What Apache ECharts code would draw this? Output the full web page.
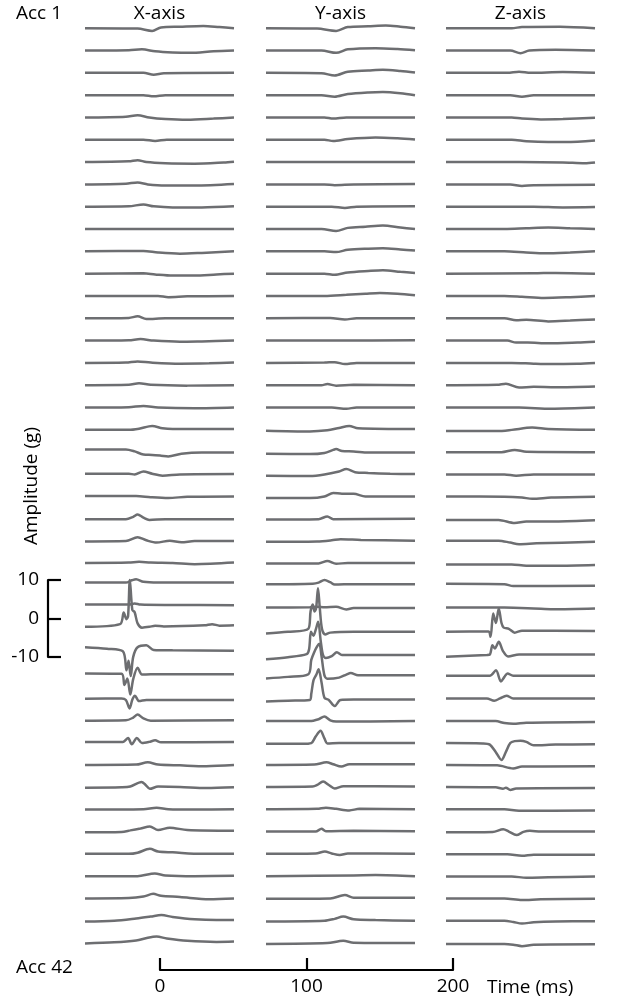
<!DOCTYPE html>
<html><head><meta charset="utf-8">
<script src="https://cdn.jsdelivr.net/npm/echarts@6/dist/echarts.min.js"></script>
<style>html,body{margin:0;padding:0;background:#fff}#c{width:636px;height:998px}</style>
</head><body><div id="c"></div><script>
const COLUMN_TITLES = ['X-axis', 'Y-axis', 'Z-axis'];
const ROW_LABELS = ['Acc 1', 'Acc 42'];
const AMPLITUDE_TICKS = [-10, 0, 10];
const TIME_TICKS = [0, 100, 200];
const AMPLITUDE_LABEL = 'Amplitude (g)';
const TIME_LABEL = 'Time (ms)';

// each trace: [time (ms), amplitude (g)] pairs, rows Acc 1 .. Acc 42
const X_TRACES = [
 [[0,0],[36,-0.1],[46,-0.7],[52,0.2],[65,0.4],[81,0.6],[92,0.3],[102,0]],
 [[0,0],[30,0.1],[39,0.3],[48,-0.2],[60,-0.5],[72,-0.6],[88,-0.2],[102,0]],
 [[0,0],[40,0],[47,-0.5],[54,-0.1],[102,0]],
 [[0,0],[40,0],[47,-0.3],[55,0],[102,0]],
 [[0,0],[28,0.2],[36,0.6],[44,0],[55,-0.4],[70,-0.6],[88,-0.3],[102,0]],
 [[0,0],[40,0],[48,-0.3],[56,0],[102,0]],
 [[0,0],[30,0.2],[36,0.5],[42,0],[55,-0.3],[75,-0.4],[95,-0.1],[102,0.1]],
 [[0,0],[28,0.2],[36,0.5],[43,0],[55,-0.3],[75,-0.3],[102,0.1]],
 [[0,0],[30,0.1],[40,0.6],[47,0.1],[60,-0.2],[80,-0.2],[102,0.1]],
 [[0,0],[102,0]],
 [[0,0],[40,0.1],[50,-0.3],[65,-0.6],[80,-0.4],[102,0]],
 [[0,0],[40,0.1],[48,-0.2],[60,-0.5],[75,-0.5],[90,-0.2],[102,0]],
 [[0,0],[50,0],[57,-0.3],[70,-0.1],[102,0]],
 [[0,0],[30,0.1],[36,0.5],[42,-0.2],[55,0],[102,0]],
 [[0,0],[30,0.1],[38,0.4],[47,0],[65,-0.3],[80,-0.2],[102,0]],
 [[0,0],[28,0.1],[36,0.4],[45,0.1],[65,-0.2],[85,-0.1],[102,0.1]],
 [[0,0],[30,0.1],[37,0.5],[45,0.1],[70,-0.1],[102,0]],
 [[0,0],[30,0.1],[40,0.4],[50,0],[75,-0.2],[102,0]],
 [[0,0],[30,0],[37,0.3],[46,1.0],[53,0.4],[60,0.2],[102,0.2]],
 [[0,0.7],[28,0.7],[34,0.2],[40,-0.6],[46,-0.7],[52,-0.9],[57,-1.1],[66,-0.4],[80,-0.1],[102,-0.1]],
 [[0,0.2],[30,0.2],[34,0],[40,0.8],[46,0.2],[53,-0.3],[65,0],[102,0.1]],
 [[0,0.2],[35,0.2],[45,-0.1],[57,-0.3],[70,0],[102,0.1]],
 [[0,0],[28,0],[33,0.6],[36,1.2],[40,0.4],[44,-0.2],[55,0],[102,0]],
 [[0,0],[28,0.1],[36,1.1],[42,0.3],[49,-0.3],[58,0.2],[66,-0.2],[75,0.1],[102,0.1]],
 [[0,0.2],[30,0.3],[37,0.5],[45,0.3],[60,0.2],[75,-0.1],[102,0.3]],
 [[0,0.9],[28,0.9],[32,1.5],[35,1.8],[40,1.1],[50,0.9],[102,0.9]],
 [[0,1.0],[30,1.0],[34,1.3],[38,1.0],[60,0.9],[102,0.8]],
 [[0,1.0],[24,1.7],[26.5,4.7],[28.4,3.0],[29.5,3.8],[30.7,13.2],[32.4,5.4],[34,4.8],[36,1.9],[39,0.8],[44,1.0],[48,1.3],[54,1.1],[82,1.4],[87,1.7],[92,1.3],[102,1.4]],
 [[0,1.5],[15,1.1],[26,0.4],[28.4,-4.5],[29.8,-2.0],[31.3,-6.0],[33,-1.0],[36,1.5],[42,2.0],[47,0.8],[60,0.7],[102,0.6]],
 [[0,0.5],[25,0.4],[27,-2.5],[29,-0.8],[31,-5.0],[33,-1.0],[36,2.0],[39,0.2],[45,0.3],[102,0.3]],
 [[0,-0.3],[25,-0.2],[28,-0.6],[30.5,-2.8],[32.5,-0.4],[34.2,0.5],[37,-0.9],[42,-0.6],[102,-0.6]],
 [[0,-0.2],[28,-0.1],[33,0.6],[36,1.4],[40,0.4],[45,-0.2],[102,-0.1]],
 [[0,0.1],[26,0.1],[29.5,1.1],[32,-0.5],[35.5,1.1],[39,-0.2],[44,0.1],[48,0.5],[52,0],[102,0.1]],
 [[0,-0.1],[35,0],[43,0.6],[50,0],[65,-0.2],[83,-0.4],[102,-0.1]],
 [[0,-0.2],[25,-0.1],[31,0.1],[38.7,1.3],[41.5,0.5],[44.4,-0.5],[50,0.1],[65,0],[83,-0.3],[102,-0.1]],
 [[0,-0.1],[40,0],[49,0.4],[57,0],[75,-0.1],[102,0]],
 [[0,-0.2],[25,-0.1],[31,0.3],[38,0.8],[44.4,1.3],[50,0.4],[58,1.0],[70,0.4],[102,0.2]],
 [[0,0],[30,0],[36,0.3],[44.4,1.3],[50,0.6],[60,0.4],[80,0],[102,0]],
 [[0,0],[36,0],[47.8,0.7],[55,0.2],[75,0],[102,0.1]],
 [[0,0],[30,0.1],[40,0.5],[46.7,1.2],[52,0.7],[65,0.4],[85,-0.2],[102,0]],
 [[0,-0.2],[20,0],[35,0.6],[45,1.1],[52.3,1.5],[60,1.0],[75,0.4],[90,0.2],[102,0.2]],
 [[0,-0.1],[20,0.2],[35,0.7],[43,1.4],[49,1.7],[56,1.2],[70,0.6],[90,0.3],[102,0.4]]
];

const Y_TRACES = [
 [[0,0],[35,-0.1],[48,-0.7],[56,0.3],[70,0.5],[82,0.7],[92,0.4],[102,0]],
 [[0,0],[38,0],[48,-0.6],[56,0.3],[75,0.6],[90,0.4],[102,0.1]],
 [[0,0],[38,-0.1],[47,-0.7],[56,0.3],[70,0.6],[80,0.8],[92,0.5],[102,0.1]],
 [[0,0],[38,0],[47,-0.4],[56,0.3],[70,0.7],[80,0.8],[92,0.5],[102,0]],
 [[0,0],[40,0],[46,-0.3],[55,0],[102,0]],
 [[0,0],[40,0],[46,-0.3],[56,0.2],[75,0.6],[90,0.4],[102,0.1]],
 [[0,0],[50,0],[102,0]],
 [[0,0],[40,0],[47,-0.2],[60,0],[102,0.1]],
 [[0,0],[45,0],[54,-0.3],[62,0],[102,0.1]],
 [[0,0],[38,0],[48,-0.5],[56,0.3],[68,0.6],[80,0.9],[92,0.4],[102,0]],
 [[0,0],[40,0],[48,-0.2],[56,0.4],[70,0.7],[80,0.8],[92,0.5],[102,0.2]],
 [[0,0],[40,0],[47,-0.3],[56,0.3],[70,0.7],[80,0.9],[92,0.5],[102,0.2]],
 [[0,0],[40,0],[55,0.3],[68,0.6],[78,0.8],[90,0.6],[102,0.2]],
 [[0,0],[44,0.1],[54,-0.3],[62,0],[102,0]],
 [[0,0],[50,0],[102,0.1]],
 [[0,0],[40,0.1],[47,0.2],[54,-0.3],[62,0],[102,0]],
 [[0,0],[38,0],[42,0.3],[48,-0.1],[60,0.1],[102,0]],
 [[0,0],[45,0],[55,-0.3],[62,0],[102,0]],
 [[0,-0.2],[30,-0.4],[42,-0.1],[50,0.5],[57,1.0],[63,0.4],[102,0.2]],
 [[0,-0.4],[30,-0.5],[40,-0.2],[46,0.6],[48,0.8],[52,0.3],[60,0.2],[70,-0.1],[102,-0.1]],
 [[0,-0.3],[30,-0.4],[40,0],[50,0.8],[55,1.4],[61,0.6],[70,0.4],[85,0.2],[102,0.1]],
 [[0,-0.3],[30,-0.3],[40,0.1],[46,1.0],[52,0.8],[60,0.8],[68,0.1],[102,0.1]],
 [[0,-0.1],[36,0],[42,0.7],[46,0],[102,0.1]],
 [[0,-0.1],[35,0],[45,0.3],[51,0.6],[65,0.4],[102,0.2]],
 [[0,0.1],[36,0.1],[42,0.7],[48,0],[56,0.2],[102,0.2]],
 [[0,0.45],[32,0.6],[36,0.9],[40,1.6],[44,1.0],[47,0.4],[60,0.5],[102,0.5]],
 [[0,0.2],[30,0.3],[35,0.4],[40,0.3],[48,0.4],[55,-0.3],[60,0.1],[102,0.1]],
 [[0,-0.7],[15,-0.3],[29,0.5],[30.5,5.0],[32,6.8],[33.2,5.0],[34.3,5.8],[35.6,11.0],[36.8,6.0],[38.3,0.5],[40.5,-1.0],[44,-0.5],[60,-0.3],[102,-0.3]],
 [[0,-1.6],[15,-1.1],[27.8,-0.3],[29.5,1.0],[30.8,5.5],[32.5,4.5],[34,6.0],[35.7,8.1],[37.5,3.0],[39,-0.5],[41,-1.3],[45,-0.8],[48.5,0.2],[52,-0.5],[102,-0.5]],
 [[0,-0.8],[15,-0.4],[29,0.3],[31,4.0],[33,6.0],[35,7.5],[36.5,8.2],[38,5.0],[40,0],[42,-0.9],[50,-0.6],[55,0.2],[58,0.6],[63,0],[102,0]],
 [[0,-1.0],[15,-0.8],[30,-0.6],[31,1.0],[32.5,4.5],[34.5,6.0],[36,7.4],[38,4.0],[40,0],[43,-0.6],[47,-2.2],[51,-0.6],[60,-0.5],[102,-0.5]],
 [[0,-0.3],[30,-0.3],[36,0.2],[40,0.9],[44,-0.1],[48,-0.4],[102,-0.3]],
 [[0,-0.4],[25,-0.4],[31,-0.2],[34,1.5],[37.3,3.0],[40,1.0],[42,-0.3],[50,-0.2],[102,-0.2]],
 [[0,-0.1],[33,0],[41.4,0.6],[46,0.1],[51.6,-0.5],[57,0.1],[102,0.1]],
 [[0,0],[32,0.1],[35,0.5],[39.1,1.4],[43,0.5],[47,-0.4],[53,0.2],[102,0.1]],
 [[0,0],[35,0.1],[41,0.4],[48,0.1],[57,-0.3],[64,0.1],[102,0]],
 [[0,0],[34,0],[38,0.7],[41,0.1],[60,0.2],[102,0.1]],
 [[0,0],[34,0.1],[40.3,0.6],[45,0.1],[50.5,-0.3],[56,0.1],[102,0]],
 [[0,0],[60,0.2],[75,0.3],[102,0]],
 [[0,-0.1],[44,0],[54,0.9],[60,0.2],[102,0.2]],
 [[0,-0.2],[40,0],[47,0.5],[52.9,1.1],[60,0.4],[75,0.2],[102,0]],
 [[0,-0.2],[42,0],[52.9,0.6],[60,0.1],[102,0]]
];

const Z_TRACES = [
 [[0,0],[45,0],[52,0.3],[78,0.4],[102,0]],
 [[0,0],[44,0],[51,-0.7],[57,0],[75,0.2],[102,0]],
 [[0,0],[42,0],[50,0.3],[58,0],[80,0.2],[102,0]],
 [[0,0],[44,0],[52,-0.4],[60,0],[102,0]],
 [[0,0],[45,0],[52,-0.3],[65,-0.5],[80,-0.4],[102,-0.1]],
 [[0,0],[45,0],[55,-0.4],[70,-0.6],[82,-0.6],[102,-0.2]],
 [[0,0],[50,0],[80,-0.1],[95,-0.3],[102,-0.1]],
 [[0,0],[44,0],[52,-0.4],[60,-0.2],[102,-0.1]],
 [[0,0],[60,0],[80,-0.2],[102,-0.1]],
 [[0,0],[40,0],[55,0.2],[70,0.4],[85,0.2],[102,0]],
 [[0,0],[40,0],[55,-0.3],[68,-0.5],[85,-0.3],[102,0]],
 [[0,0],[60,0.1],[75,0.2],[102,0]],
 [[0,0],[40,0],[52,-0.2],[67,-0.5],[85,-0.3],[102,0]],
 [[0,0],[40,0],[48,-0.5],[55,-0.4],[70,-0.8],[85,-0.6],[102,-0.3]],
 [[0,0],[42,0],[48,-0.5],[56,-0.5],[70,-0.7],[90,-0.5],[102,-0.3]],
 [[0,0],[45,0],[60,-0.2],[72,-0.3],[90,-0.2],[102,0]],
 [[0,0],[35,0.1],[41,0.4],[50,-0.6],[60,-0.4],[75,-0.5],[102,-0.3]],
 [[0,0],[50,0],[72,-0.3],[102,0]],
 [[0,-0.3],[35,-0.3],[45,0],[59,0.6],[70,0.2],[102,0]],
 [[0,0],[38,0],[47,0.6],[55,0.1],[102,0]],
 [[0,0],[40,0],[48,-0.3],[60,0],[102,0]],
 [[0,0.1],[40,0],[52,-0.2],[59,-0.5],[72,-0.2],[102,0]],
 [[0,-0.2],[36,-0.2],[47,-1.0],[55,-0.6],[75,-0.6],[102,-0.3]],
 [[0,0.2],[36,0.2],[44,-0.3],[50,-0.7],[62,-0.5],[102,-0.1]],
 [[0,-0.2],[45,-0.2],[55,-0.5],[75,-0.5],[102,-0.3]],
 [[0,0.6],[40,0.5],[46,0],[102,0.1]],
 [[0,0.2],[40,0.2],[60,0],[73,-0.2],[102,0]],
 [[0,-0.3],[29,-0.2],[30.5,-1.6],[32.3,4.5],[34.2,2.0],[36.1,5.8],[38,2.0],[39.5,0.8],[43,0.5],[47,-0.5],[52,0],[102,-0.1]],
 [[0,-1.0],[28,-0.5],[30,-0.4],[31.8,2.0],[33.4,1.2],[36.1,2.9],[39,0.5],[42.5,-0.9],[50,-0.4],[102,-0.4]],
 [[0,-0.1],[30,-0.1],[34.2,1.3],[37.6,-1.6],[40,-0.4],[42.1,0.5],[46,-0.1],[102,-0.1]],
 [[0,-0.2],[28,-0.2],[33,-0.8],[37,-0.2],[41.4,0.5],[46,-0.2],[102,-0.2]],
 [[0,-0.3],[34,-0.3],[40,-0.8],[46,-1.0],[55,-0.7],[102,-0.5]],
 [[0,-0.2],[25,-0.3],[30,-0.6],[34,-2.5],[38,-4.6],[41,-2.5],[44,-0.2],[47,0.3],[51,0.4],[55,0.1],[60,-0.8],[75,-0.6],[102,-0.5]],
 [[0,-0.1],[35,-0.2],[46,-1.0],[52,-0.5],[102,-0.4]],
 [[0,0],[34,-0.1],[39,-0.5],[41,-0.2],[44,-0.8],[48,-0.4],[102,-0.3]],
 [[0,0],[40,0],[50,-0.4],[102,-0.3]],
 [[0,-0.2],[32,-0.1],[39.2,0.6],[43,0],[48.3,-0.9],[53,-0.1],[57.4,0.2],[65,0],[102,0]],
 [[0,-0.1],[42,-0.1],[52,-0.5],[60,-0.2],[102,-0.2]],
 [[0,-0.1],[45,-0.1],[55,-0.4],[70,-0.3],[102,-0.1]],
 [[0,0],[40,0],[52,-0.4],[65,-0.2],[102,-0.1]],
 [[0,0],[40,0],[46,-0.3],[52,-0.7],[60,-0.4],[75,-0.2],[102,-0.1]],
 [[0,-0.2],[40,-0.2],[46,-0.4],[52,-0.8],[60,-0.4],[102,-0.3]]
];

// ---- layout / style ----
const FONT = '"Open Sans"';
const FONT_SIZE = 19;
const LINE_COLOR = '#6d6e71';
const PX_PER_G = 3.85;
const FIRST_ROW_PX = 28.2;
const ROW_STEP_PX = 22.315;
const ROW_STEP = ROW_STEP_PX / PX_PER_G;
const H = 998;
const Y_MAX = FIRST_ROW_PX / PX_PER_G;
const Y_MIN = Y_MAX - H / PX_PER_G;
const COL_LEFT = [85, 266, 446];
const COL_WIDTH = 149;
const T_MAX = 102;

const chart = echarts.init(document.getElementById('c'), null, {renderer: 'canvas'});

const grid = [], xAxis = [], yAxis = [], series = [];
[X_TRACES, Y_TRACES, Z_TRACES].forEach((traces, c) => {
  grid.push({left: COL_LEFT[c], top: 0, width: COL_WIDTH, height: H});
  xAxis.push({gridIndex: c, type: 'value', min: 0, max: T_MAX, show: false});
  yAxis.push({gridIndex: c, type: 'value', min: Y_MIN, max: Y_MAX, show: false});
  traces.forEach((trace, k) => {
    series.push({
      type: 'line', xAxisIndex: c, yAxisIndex: c, silent: true, clip: false,
      showSymbol: false, symbol: 'none', smooth: 0.3,
      lineStyle: {color: LINE_COLOR, width: 2.5},
      data: trace.map(p => [p[0], p[1] - k * ROW_STEP])
    });
  });
});

const axisText = {color: '#000', fontFamily: FONT, fontSize: FONT_SIZE};
// amplitude scale bar
grid.push({left: 48, top: 580, width: 20, height: 77});
xAxis.push({gridIndex: 3, type: 'value', min: 0, max: 1, show: false});
yAxis.push({gridIndex: 3, type: 'value', position: 'left',
  min: AMPLITUDE_TICKS[0], max: AMPLITUDE_TICKS[AMPLITUDE_TICKS.length - 1],
  interval: AMPLITUDE_TICKS[1] - AMPLITUDE_TICKS[0],
  axisLine: {show: true, lineStyle: {color: '#000', width: 2.2}},
  axisTick: {show: true, inside: true, length: 13, lineStyle: {color: '#000', width: 2.2}},
  axisLabel: Object.assign({show: true, margin: 9, showMinLabel: true, showMaxLabel: true}, axisText),
  splitLine: {show: false}});
// time scale bar
grid.push({left: 160, top: 950, width: 293, height: 20});
xAxis.push({gridIndex: 4, type: 'value', position: 'bottom',
  min: TIME_TICKS[0], max: TIME_TICKS[TIME_TICKS.length - 1],
  interval: TIME_TICKS[1] - TIME_TICKS[0],
  axisLine: {show: true, onZero: false, lineStyle: {color: '#000', width: 2.2}},
  axisTick: {show: true, inside: true, length: 12, lineStyle: {color: '#000', width: 2.2}},
  axisLabel: Object.assign({show: true, margin: 7, showMinLabel: true, showMaxLabel: true}, axisText),
  splitLine: {show: false}});
yAxis.push({gridIndex: 4, type: 'value', min: 0, max: 1, show: false});

const txt = (text, x, y, extra) => ({type: 'text', x, y, silent: true,
  style: Object.assign({text, fill: '#000', fontFamily: FONT, fontSize: FONT_SIZE,
    align: 'left', verticalAlign: 'middle'}, extra || {})});

const graphic = [
  txt(ROW_LABELS[0], 16, 14),
  txt(ROW_LABELS[1], 16, 968),
  txt(TIME_LABEL, 487, 988),
  {type: 'text', x: 32, y: 486, rotation: Math.PI / 2, silent: true,
   style: {text: AMPLITUDE_LABEL, fill: '#000', fontFamily: FONT, fontSize: FONT_SIZE,
     align: 'center', verticalAlign: 'middle'}}
];
COLUMN_TITLES.forEach((t, c) => graphic.push(txt(t, COL_LEFT[c] + COL_WIDTH / 2, 14, {align: 'center'})));

chart.setOption({animation: false, backgroundColor: '#fff', grid, xAxis, yAxis, series, graphic});
</script></body></html>
